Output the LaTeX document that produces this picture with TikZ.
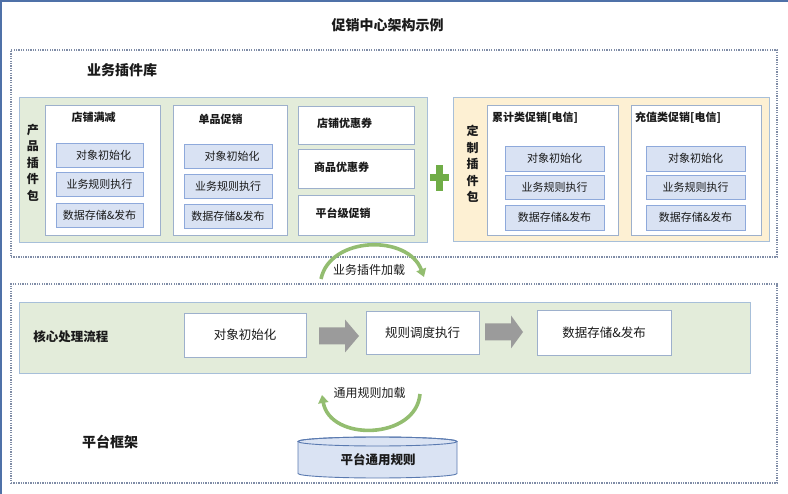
\documentclass[tikz,border=0pt]{standalone}
\usepackage{fontspec}
\setmainfont{Noto Sans CJK SC}
\usetikzlibrary{arrows.meta}
\definecolor{txt}{HTML}{1A1A1A}
\definecolor{frameblue}{HTML}{4F71A8}
\definecolor{dotcol}{HTML}{7F8CA6}
\definecolor{pkggreen}{HTML}{E3ECDA}
\definecolor{pkgyellow}{HTML}{FDF0D3}
\definecolor{pkgborder}{HTML}{A7BFD9}
\definecolor{whiteborder}{HTML}{9DB0CC}
\definecolor{innerfill}{HTML}{D9E2F3}
\definecolor{innerborder}{HTML}{8EA9DB}
\definecolor{arcgreen}{HTML}{93BD70}
\definecolor{plusgreen}{HTML}{70AD47}
\definecolor{blockgray}{HTML}{9B9B9B}
\definecolor{cylfill}{HTML}{DAE3F3}
\definecolor{cylborder}{HTML}{5A7AB0}
\tikzset{
  box/.style={rectangle, inner sep=0pt, outer sep=0pt, text=txt},
  dotbox/.style={box, draw=dotcol, line width=1.2pt, dash pattern=on 1.3pt off 1.1pt},
  greenpkg/.style={box, fill=pkggreen, draw=pkgborder, line width=0.9pt},
  yellowpkg/.style={box, fill=pkgyellow, draw=pkgborder, line width=0.9pt},
  whitebox/.style={box, fill=white, draw=whiteborder, line width=0.9pt},
  innerbox/.style={box, fill=innerfill, draw=innerborder, line width=0.8pt, font=\fontsize{11}{13}\selectfont},
  corebox/.style={box, fill=white, draw=whiteborder, line width=0.9pt, font=\fontsize{12.5}{14}\selectfont},
  lbl/.style={inner sep=0pt, text=txt},
  boldlbl/.style={lbl, font=\bfseries\fontsize{11}{13}\selectfont},
  biglbl/.style={lbl, font=\bfseries\fontsize{14}{16}\selectfont},
  vertlbl/.style={lbl, align=center, font=\bfseries\fontsize{12}{16.6}\selectfont},
  arcarrow/.style={draw=arcgreen, line width=3.6pt, -{Triangle[width=10pt,length=8pt]}},
  blockarrow/.style={fill=blockgray},
}
\begin{document}
\begin{tikzpicture}[x=1pt,y=-1pt]
\useasboundingbox (0,0) rectangle (788,494);
% outer frame (top and left edges visible)
\draw[frameblue, line width=1.3pt] (1,494) -- (1,1) -- (788,1);

% title
\node[biglbl] (title) at (387.5,25) {促销中心架构示例};

% dotted regions
\node[dotbox, minimum width=766, minimum height=207] (upper) at (394,153.5) {};
\node[dotbox, minimum width=766, minimum height=199] (lower) at (394,383.5) {};
\node[biglbl] (lib) at (122,70) {业务插件库};

% product plugin package
\node[greenpkg, minimum width=408, minimum height=145] (prodpkg) at (223,169.5) {};
\node[vertlbl] (prodlbl) at (33,162.5) {产\\品\\插\\件\\包};

\node[whitebox, minimum width=115, minimum height=130] (p1) at (102.5,170) {};
\node[boldlbl] (p1t) at (93.5,117) {店铺满减};
\node[innerbox, minimum width=87, minimum height=24] (p1a) at (99.5,155) {\hspace{8pt}对象初始化};
\node[innerbox, minimum width=87, minimum height=24] (p1b) at (99.5,184) {业务规则执行};
\node[innerbox, minimum width=87, minimum height=24] (p1c) at (99.5,215) {数据存储\&发布};

\node[whitebox, minimum width=114, minimum height=130] (p2) at (230,170) {};
\node[boldlbl] (p2t) at (220.5,119) {单品促销};
\node[innerbox, minimum width=88, minimum height=24] (p2a) at (228,156) {\hspace{8pt}对象初始化};
\node[innerbox, minimum width=88, minimum height=24] (p2b) at (228,186) {业务规则执行};
\node[innerbox, minimum width=88, minimum height=24] (p2c) at (228,216) {数据存储\&发布};

\node[whitebox, minimum width=116, minimum height=38] (c1) at (356,125) {};
\node[boldlbl] (c1t) at (344.5,123) {店铺优惠券};
\node[whitebox, minimum width=116, minimum height=39] (c2) at (356,168.5) {};
\node[boldlbl] (c2t) at (341.5,167) {商品优惠券};
\node[whitebox, minimum width=116, minimum height=40] (c3) at (356,215) {};
\node[boldlbl] (c3t) at (343,213) {平台级促销};

% plus sign
\coordinate (plus) at (439,178);
\fill[plusgreen] ([xshift=-3.5pt,yshift=13pt]plus) rectangle ([xshift=3.5pt,yshift=-13pt]plus);
\fill[plusgreen] ([xshift=-9.5pt,yshift=3.5pt]plus) rectangle ([xshift=9.5pt,yshift=-3.5pt]plus);

% custom plugin package
\node[yellowpkg, minimum width=316, minimum height=144] (custpkg) at (611,169) {};
\node[vertlbl] (custlbl) at (472.5,164) {定\\制\\插\\件\\包};

\node[whitebox, minimum width=131, minimum height=130] (q1) at (552.5,170) {};
\node[boldlbl, anchor=west] (q1t) at (492,118) {累计类促销[电信]};
\node[innerbox, minimum width=99, minimum height=25] (q1a) at (554.5,158.5) {对象初始化\hspace{8pt}};
\node[innerbox, minimum width=99, minimum height=24] (q1b) at (554.5,187) {业务规则执行\hspace{6pt}};
\node[innerbox, minimum width=99, minimum height=25] (q1c) at (554.5,217.5) {数据存储\&发布};

\node[whitebox, minimum width=130, minimum height=130] (q2) at (696,170) {};
\node[boldlbl, anchor=west] (q2t) at (635,118) {充值类促销[电信]};
\node[innerbox, minimum width=99, minimum height=25] (q2a) at (695.5,158.5) {对象初始化\hspace{8pt}};
\node[innerbox, minimum width=99, minimum height=24] (q2b) at (695.5,187) {业务规则执行\hspace{6pt}};
\node[innerbox, minimum width=99, minimum height=25] (q2c) at (695.5,217.5) {数据存储\&发布};

% plugin loading arc
\coordinate (arc1s) at (321,279);
\coordinate (arc1e) at (424,277);
\draw[arcarrow] (arc1s) .. controls (330,236) and (408,234) .. (arc1e);
\node[lbl, font=\fontsize{12}{14}\selectfont] (arc1lbl) at (369,270) {业务插件加载};

% core processing flow
\node[greenpkg, minimum width=731, minimum height=71] (core) at (384.5,337.5) {};
\node[lbl, font=\bfseries\fontsize{12.5}{14}\selectfont] (corelbl) at (71,337) {核心处理流程};
\node[corebox, minimum width=122, minimum height=44] (b1) at (245,335) {对象初始化};
\node[corebox, minimum width=113, minimum height=43] (b2) at (422.5,332.5) {规则调度执行};
\node[corebox, minimum width=134, minimum height=45] (b3) at (604,332.5) {数据存储\&发布};

\coordinate (ar1) at ([xshift=13pt,yshift=-1pt]b1.east);
\fill[blockarrow] (ar1) ++(0,-8.5) -- ++(26,0) -- ++(0,-8) -- ++(14,16.5) -- ++(-14,16.5) -- ++(0,-8) -- ++(-26,0) -- cycle;
\coordinate (ar2) at ([xshift=6pt,yshift=0.5pt]b2.east);
\fill[blockarrow] (ar2) ++(0,-8.5) -- ++(26,0) -- ++(0,-8) -- ++(12,16.5) -- ++(-12,16.5) -- ++(0,-8) -- ++(-26,0) -- cycle;

% platform framework
\node[biglbl] (frame) at (110,442) {平台框架};

% common rule loading arc
\node[lbl, font=\fontsize{12}{14}\selectfont] (arc2lbl) at (369.5,393) {通用规则加载};
\coordinate (arc2s) at (420,394);
\coordinate (arc2e) at (322,395);
\draw[arcarrow] (arc2s) .. controls (416,440) and (330,442) .. (arc2e);

% cylinder
\path[fill=cylfill, draw=cylborder, line width=0.9pt]
  (298,441.5) -- (298,473.5) arc[start angle=180, end angle=360, x radius=79.5pt, y radius=4.5pt]
  -- (457,441.5) arc[start angle=0, end angle=180, x radius=79.5pt, y radius=4.5pt] -- cycle;
\draw[cylborder, line width=0.9pt] (377.5,441.5) ellipse [x radius=79.5pt, y radius=4.5pt];
\node[lbl, font=\bfseries\fontsize{12.5}{14}\selectfont] (cyl) at (378,460) {平台通用规则};
\end{tikzpicture}
\end{document}
